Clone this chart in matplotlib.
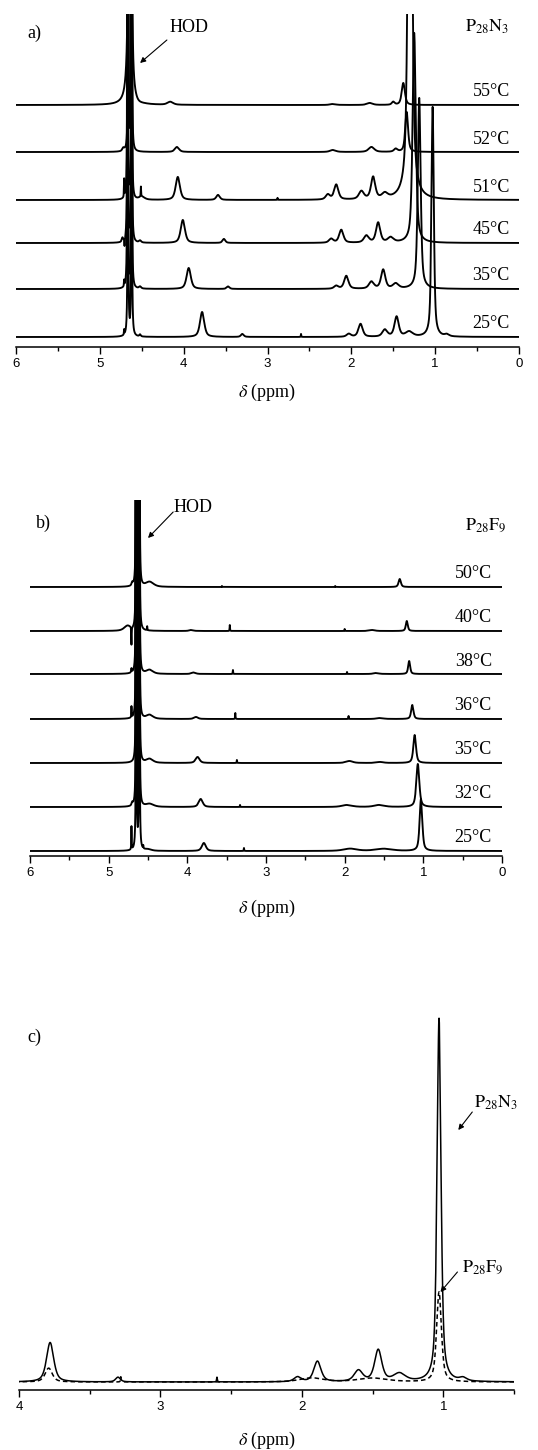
import numpy as np
import matplotlib
matplotlib.use("Agg")
import matplotlib.pyplot as plt
from matplotlib.ticker import MultipleLocator

plt.rcParams['font.family'] = ['Liberation Serif', 'DejaVu Serif']
plt.rcParams['mathtext.fontset'] = 'stix'

# ---------------- data (peak lists: ppm, height, width) -------------
AB_TICKS = [6, 5, 4, 3, 2, 1, 0]
C_TICKS = [4, 3, 2, 1]

A_TEMPS = ["25°C", "35°C", "45°C", "51°C", "52°C", "55°C"]
A_25 = [(4.71, 5, 0.006), (4.665, 900, 0.006), (4.62, 900, 0.006), (4.52, 2, 0.02),
        (3.78, 25, 0.06), (3.30, 3, 0.04), (2.60, 3, 0.006), (2.03, 3, 0.06),
        (1.89, 13, 0.06), (1.60, 7, 0.07), (1.46, 20, 0.06), (1.31, 5, 0.10),
        (1.03, 230, 0.033), (0.86, 2, 0.06)]
A_35 = [(4.71, 6, 0.006), (4.67, 900, 0.006), (4.62, 900, 0.006), (4.52, 2, 0.03),
        (3.94, 21, 0.06), (3.47, 2.5, 0.04), (2.18, 3, 0.06), (2.06, 13, 0.06),
        (1.76, 7, 0.07), (1.62, 19, 0.06), (1.47, 5, 0.08), (1.19, 191, 0.04)]
A_45 = [(4.73, 4, 0.02), (4.705, -8, 0.006), (4.67, 900, 0.006), (4.62, 900, 0.006),
        (4.52, 2, 0.03), (4.01, 23, 0.06), (3.52, 4, 0.04), (2.24, 4, 0.06),
        (2.12, 13, 0.06), (1.82, 7, 0.07), (1.68, 20, 0.06), (1.53, 5, 0.08),
        (1.25, 210, 0.045)]
A_51 = [(4.71, 18, 0.006), (4.67, 900, 0.006), (4.62, 900, 0.006), (4.51, 10, 0.006),
        (4.50, 3, 0.08), (4.07, 23, 0.06), (3.59, 5, 0.05), (2.88, 2, 0.006),
        (2.28, 5, 0.06), (2.18, 15, 0.06), (1.88, 8, 0.07), (1.74, 22, 0.06),
        (1.60, 5, 0.08), (1.30, 600, 0.05)]
A_52 = [(4.72, 3, 0.03), (4.66, 900, 0.006), (4.62, 900, 0.006), (4.08, 5, 0.06),
        (2.22, 2, 0.08), (1.76, 5, 0.08), (1.47, 3, 0.05), (1.34, 40, 0.04)]
A_55 = [(4.645, 1000, 0.022), (4.62, 900, 0.006), (4.55, -2, 0.1), (4.16, 3, 0.08),
        (2.22, 1, 0.08), (1.78, 2, 0.08), (1.50, 3, 0.04), (1.38, 22, 0.045)]
A_SPECTRA = [A_25, A_35, A_45, A_51, A_52, A_55]

B_TEMPS = ["25°C", "32°C", "35°C", "36°C", "38°C", "40°C", "50°C"]
B_25 = [(4.71, 23, 0.006), (4.65, 900, 0.006), (4.61, 900, 0.006), (4.56, 3, 0.006),
        (4.50, 1.5, 0.1), (3.79, 8, 0.06), (3.28, 3, 0.006), (1.93, 2.3, 0.2),
        (1.50, 2.2, 0.25), (1.03, 52, 0.04)]
B_32 = [(4.70, 3, 0.02), (4.65, 900, 0.006), (4.61, 900, 0.006), (4.48, 3, 0.12),
        (3.83, 8, 0.06), (3.33, 2, 0.006), (1.97, 2, 0.15), (1.56, 2, 0.15),
        (1.07, 43, 0.045)]
B_35 = [(4.65, 900, 0.006), (4.61, 900, 0.006), (4.48, 4, 0.1), (3.87, 6, 0.06),
        (3.37, 3, 0.006), (1.94, 2, 0.1), (1.55, 1, 0.1), (1.11, 28, 0.04)]
B_36 = [(4.71, 11, 0.006), (4.65, 900, 0.006), (4.61, 900, 0.006), (4.48, 4, 0.1),
        (3.89, 2, 0.06), (3.39, 6, 0.006), (1.95, 3, 0.006), (1.55, 1, 0.1),
        (1.14, 14, 0.035)]
B_38 = [(4.71, 4, 0.01), (4.65, 900, 0.006), (4.61, 900, 0.006), (4.48, 4, 0.1),
        (3.92, 1.5, 0.06), (3.42, 4, 0.006), (1.97, 2, 0.006), (1.60, 1, 0.08),
        (1.18, 13, 0.03)]
B_40 = [(4.76, 5, 0.1), (4.71, -18, 0.006), (4.65, 900, 0.006), (4.61, 900, 0.006),
        (4.51, 4, 0.006), (3.95, 1, 0.06), (3.46, 6, 0.006), (2.00, 2, 0.006),
        (1.65, 1, 0.08), (1.21, 10, 0.03)]
B_50 = [(4.70, 3, 0.02), (4.65, 900, 0.006), (4.61, 900, 0.006), (4.48, 5, 0.12),
        (3.56, 1, 0.006), (2.12, 1, 0.006), (1.30, 8, 0.035)]
B_SPECTRA = [B_25, B_32, B_35, B_36, B_38, B_40, B_50]

# panel c: 25 °C spectra of both polymers, relative intensity factors
C_SCALE_N3 = 1.58
C_SCALE_F9 = 1.73

# ---------------- layout ----------------
A_OFFSETS = [10, 58, 104, 147, 195, 242]
B_OFFSETS = [5, 49, 93, 137, 182, 225, 269]
C_OFFSET = 8

W, H = 538, 1450
fig = plt.figure(figsize=(W / 100, H / 100), dpi=100)


def box(l, r, top, bot):
    return [l / W, 1 - bot / H, (r - l) / W, (bot - top) / H]


x = np.linspace(0, 6, 24001)


def spectrum(peaks):
    y = np.zeros_like(x)
    for p0, h, w in peaks:
        hw = w / 2
        lor = hw ** 2 / ((x - p0) ** 2 + hw ** 2)
        gau = np.exp(-np.log(2) * ((x - p0) / hw) ** 2)
        y += h * (0.6 * lor + 0.4 * gau)
    return y


def style(ax, xmax, xmin, ymax):
    ax.set_xlim(xmax, xmin)
    ax.set_ylim(0, ymax)
    for s in ['left', 'right', 'top']:
        ax.spines[s].set_visible(False)
    ax.spines['bottom'].set_linewidth(1.1)
    ax.set_yticks([])
    ax.xaxis.set_minor_locator(MultipleLocator(0.5))
    ax.tick_params(axis='x', which='major', direction='out', length=5, width=1.0,
                   labelsize=9.5, pad=3)
    ax.tick_params(axis='x', which='minor', direction='out', length=3, width=1.0)
    for lbl in ax.get_xticklabels():
        lbl.set_fontfamily(['Liberation Sans', 'DejaVu Sans'])


LW = 1.35
FS = 13
XLAB = r"$\delta$ (ppm)"
ARROW = dict(arrowstyle='-|>', color='black', lw=0.8, mutation_scale=8, shrinkA=0, shrinkB=0)

# ---- panel a ----
ax_a = fig.add_axes(box(16, 519, 14, 347))
for peaks, off in zip(A_SPECTRA, A_OFFSETS):
    ax_a.plot(x, spectrum(peaks) + off, color='black', lw=LW)
ax_a.set_xticks(AB_TICKS)
style(ax_a, 6, 0, 333)
for t, off in zip(A_TEMPS, A_OFFSETS):
    ax_a.text(0.11, off + 13, t, ha='right', va='center', fontsize=FS)
ax_a.text(0.12, 320, r"$\mathrm{P}_{28}\mathrm{N}_{3}$", ha='right', va='center', fontsize=FS)
ax_a.text(5.87, 314, "a)", ha='left', va='center', fontsize=FS)
ax_a.text(3.94, 320, "HOD", ha='center', va='center', fontsize=FS)
ax_a.annotate("", xy=(4.52, 284), xytext=(4.20, 307), arrowprops=ARROW)
fig.text(267 / W, 1 - 392 / H, XLAB, ha='center', va='center', fontsize=FS)

# ---- panel b ----
ax_b = fig.add_axes(box(30, 502, 500, 856))
for peaks, off in zip(B_SPECTRA, B_OFFSETS):
    ax_b.plot(x, spectrum(peaks) + off, color='black', lw=LW)
ax_b.set_xticks(AB_TICKS)
style(ax_b, 6, 0, 356)
for t, off in zip(B_TEMPS, B_OFFSETS):
    ax_b.text(0.13, off + 13, t, ha='right', va='center', fontsize=FS)
ax_b.text(0.47, 331, r"$\mathrm{P}_{28}\mathrm{F}_{9}$", ha='left', va='center', fontsize=FS)
ax_b.text(5.92, 333, "b)", ha='left', va='center', fontsize=FS)
ax_b.text(3.93, 349, "HOD", ha='center', va='center', fontsize=FS)
ax_b.annotate("", xy=(4.50, 318), xytext=(4.18, 344), arrowprops=ARROW)
fig.text(267 / W, 1 - 908 / H, XLAB, ha='center', va='center', fontsize=FS)

# ---- panel c ----
ax_c = fig.add_axes(box(19, 514, 1017, 1390))
ax_c.plot(x, spectrum(A_25) * C_SCALE_N3 + C_OFFSET, color='black', lw=1.1)
ax_c.plot(x, spectrum(B_25) * C_SCALE_F9 + C_OFFSET, color='black', lw=1.1,
          ls=(0, (3, 2)))
ax_c.set_xticks(C_TICKS)
style(ax_c, 4, 0.5, 373)
ax_c.text(3.94, 353, "c)", ha='left', va='center', fontsize=FS)
ax_c.text(0.78, 287, r"$\mathrm{P}_{28}\mathrm{N}_{3}$", ha='left', va='center', fontsize=FS)
ax_c.annotate("", xy=(0.894, 260), xytext=(0.795, 278), arrowprops=ARROW)
ax_c.text(0.87, 123, r"$\mathrm{P}_{28}\mathrm{F}_{9}$", ha='left', va='center', fontsize=FS)
ax_c.annotate("", xy=(1.02, 98), xytext=(0.90, 118), arrowprops=ARROW)
fig.text(267 / W, 1 - 1440 / H, XLAB, ha='center', va='center', fontsize=FS)

fig.savefig("out.png", dpi=100, facecolor='white')
